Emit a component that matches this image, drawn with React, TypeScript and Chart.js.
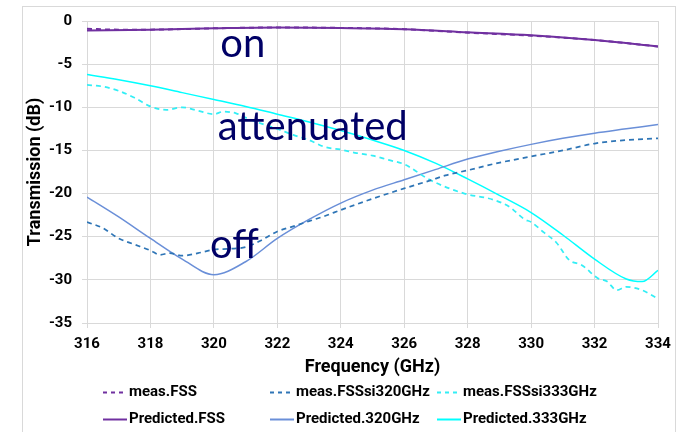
import React, { useEffect, useRef } from "react";
import { Chart, registerables } from "chart.js";

Chart.register(...registerables);

// ---- Data ----
const xTicks = [316, 318, 320, 322, 324, 326, 328, 330, 332, 334];
const yTicks = [0, -5, -10, -15, -20, -25, -30, -35];

const measFssFreq = [316, 317, 318, 320, 322, 324, 326, 328, 330, 332, 334];
const measFssVal = [-0.9, -1.0, -1.0, -0.85, -0.75, -0.8, -0.95, -1.35, -1.7, -2.2, -2.95];

const predFssFreq = [316, 318, 320, 322, 324, 326, 328, 330, 332, 334];
const predFssVal = [-1.1, -1.0, -0.85, -0.75, -0.8, -0.95, -1.3, -1.65, -2.2, -2.95];

const meas320Freq = [316, 316.5, 317, 317.5, 318, 318.3, 318.6, 319, 319.5, 320, 320.5, 321, 321.5, 322, 322.5, 323, 323.5, 324, 325, 326, 326.8, 327.3, 328, 328.9, 330, 331, 332, 333, 334];
const meas320Val = [-23.3, -24.0, -25.2, -25.9, -26.6, -27.1, -26.9, -27.2, -26.9, -26.5, -26.4, -26.2, -25.4, -24.4, -23.8, -23.2, -22.6, -21.9, -20.6, -19.4, -18.5, -17.9, -17.3, -16.5, -15.7, -15.0, -14.2, -13.8, -13.6];

const pred320Freq = [316, 317, 318, 319, 320, 321, 322, 323, 324, 325, 326, 327, 328, 329, 330, 331, 332, 333, 334];
const pred320Val = [-20.4, -22.7, -25.2, -27.6, -29.4, -27.9, -25.2, -23.0, -21.1, -19.6, -18.4, -17.2, -16.0, -15.1, -14.3, -13.6, -13.0, -12.5, -12.0];

const meas333Freq = [316, 316.5, 317, 317.5, 318, 318.5, 319, 319.5, 320, 320.3, 320.7, 321, 321.5, 322, 322.5, 323, 323.5, 324, 324.5, 325, 325.5, 326, 326.8, 327.9, 328.8, 329.3, 329.8, 330, 330.4, 330.8, 331.2, 331.6, 332.1, 332.4, 332.7, 333, 333.5, 334];
const meas333Val = [-7.4, -7.6, -8.1, -8.9, -9.9, -10.3, -10.0, -10.4, -10.8, -10.5, -10.7, -11.2, -11.9, -12.5, -13.2, -13.8, -14.6, -14.9, -15.3, -15.6, -16.1, -16.6, -18.4, -20.0, -20.7, -21.5, -23.0, -23.3, -24.5, -25.7, -27.7, -28.3, -29.8, -30.2, -31.2, -30.8, -31.2, -32.2];

const pred333Freq = [316, 317, 318, 319, 320, 321, 322, 323, 324, 325, 326, 327, 328, 329, 330, 331, 332, 333, 333.5, 334];
const pred333Val = [-6.2, -6.8, -7.5, -8.3, -9.1, -9.9, -10.8, -11.7, -12.7, -13.8, -15.0, -16.5, -18.3, -20.2, -22.2, -24.8, -27.6, -29.9, -30.2, -28.9];

const seriesNames = ["meas.FSS", "meas.FSSsi320GHz", "meas.FSSsi333GHz", "Predicted.FSS", "Predicted.320GHz", "Predicted.333GHz"];
const annotations = [
  { text: "on", x: 320.2, y: -4.2 },
  { text: "attenuated", x: 320.12, y: -13.8 },
  { text: "off", x: 319.88, y: -27.5 },
];

const pts = (xs: number[], ys: number[]) => xs.map((x, i) => ({ x, y: ys[i] }));

const PURPLE = "#7030A0";
const BLUE_DASH = "#2E75B6";
const BLUE = "#6A8FD8";
const CYAN = "#00FFFF";
const CYAN_DASH = "#33EEF5";

const ANNOT_FONT = "Lato, 'Open Sans', sans-serif";
const BOLD_FONT = "Roboto, 'Liberation Sans', sans-serif";

const datasets = [
  { label: seriesNames[0], data: pts(measFssFreq, measFssVal), borderColor: PURPLE, borderDash: [5, 4], borderWidth: 2 },
  { label: seriesNames[1], data: pts(meas320Freq, meas320Val), borderColor: BLUE_DASH, borderDash: [5, 4], borderWidth: 1.75 },
  { label: seriesNames[2], data: pts(meas333Freq, meas333Val), borderColor: CYAN_DASH, borderDash: [5, 4], borderWidth: 1.75 },
  { label: seriesNames[3], data: pts(predFssFreq, predFssVal), borderColor: PURPLE, borderWidth: 2 },
  { label: seriesNames[4], data: pts(pred320Freq, pred320Val), borderColor: BLUE, borderWidth: 1.5 },
  { label: seriesNames[5], data: pts(pred333Freq, pred333Val), borderColor: CYAN, borderWidth: 1.5 },
];

const bgPlugin = {
  id: "bgFrame",
  beforeDraw(chart: any) {
    const ctx = chart.ctx;
    ctx.save();
    ctx.fillStyle = "#ffffff";
    ctx.fillRect(0, 0, chart.width, chart.height);
    ctx.strokeStyle = "#d9d9d9";
    ctx.lineWidth = 1;
    ctx.strokeRect(22.5, 6.5, 653, 460);
    ctx.restore();
  },
};

const annotationPlugin = {
  id: "annots",
  afterDatasetsDraw(chart: any) {
    const ctx = chart.ctx;
    const xs = chart.scales.x;
    const ys = chart.scales.y;
    ctx.save();
    ctx.fillStyle = "#000066";
    ctx.font = `40px ${ANNOT_FONT}`;
    ctx.textAlign = "left";
    ctx.textBaseline = "alphabetic";
    annotations.forEach((a) => {
      ctx.fillText(a.text, xs.getPixelForValue(a.x), ys.getPixelForValue(a.y));
    });
    ctx.restore();
  },
};

const legendPlugin = {
  id: "gridLegend",
  afterDraw(chart: any) {
    const ctx = chart.ctx;
    const colX = [103, 270, 437];
    const rowY = [392, 419];
    ctx.save();
    ctx.font = `bold 15px ${BOLD_FONT}`;
    ctx.textBaseline = "middle";
    ctx.textAlign = "left";
    chart.data.datasets.forEach((ds: any, i: number) => {
      const c = i % 3;
      const r = Math.floor(i / 3);
      const x = colX[c];
      const y = rowY[r];
      ctx.strokeStyle = ds.borderColor;
      ctx.lineWidth = 2;
      ctx.setLineDash(ds.borderDash ? [4, 4] : []);
      ctx.beginPath();
      ctx.moveTo(x, y + 0.5);
      ctx.lineTo(x + 24, y + 0.5);
      ctx.stroke();
      ctx.setLineDash([]);
      ctx.fillStyle = "#000000";
      ctx.fillText(ds.label, x + 26, y);
    });
    ctx.restore();
  },
};

export default function App() {
  const ref = useRef<HTMLCanvasElement | null>(null);
  useEffect(() => {
    if (!ref.current) return;
    const chart = new Chart(ref.current, {
      type: "line",
      data: {
        datasets: datasets.map((d) => ({
          ...d,
          fill: false,
          pointRadius: 0,
          tension: 0.4,
          cubicInterpolationMode: "monotone" as const,
        })),
      },
      options: {
        animation: false,
        responsive: false,
        layout: { padding: { left: 23, top: 21, right: 24, bottom: 54 } },
        plugins: { legend: { display: false }, tooltip: { enabled: false } },
        scales: {
          x: {
            type: "linear",
            min: 316,
            max: 334,
            afterBuildTicks: (s: any) => {
              s.ticks = xTicks.map((v) => ({ value: v }));
            },
            afterFit: (s: any) => {
              s.height = 55;
            },
            ticks: { font: { family: BOLD_FONT, size: 15, weight: "bold" }, color: "#000", padding: 7 },
            grid: { color: "#d9d9d9", tickLength: 5, lineWidth: 1 },
            border: { color: "#d9d9d9" },
            title: { display: true, text: "Frequency (GHz)", font: { family: BOLD_FONT, size: 18, weight: "bold" }, color: "#000", padding: { top: 2, bottom: 0 } },
          },
          y: {
            type: "linear",
            min: -35,
            max: 0,
            afterBuildTicks: (s: any) => {
              s.ticks = yTicks.map((v) => ({ value: v }));
            },
            afterFit: (s: any) => {
              s.width = 64;
            },
            ticks: { font: { family: BOLD_FONT, size: 15, weight: "bold" }, color: "#000", padding: 10 },
            grid: { color: "#d9d9d9", tickLength: 5, lineWidth: 1 },
            border: { color: "#d9d9d9" },
            title: { display: true, text: "Transmission (dB)", font: { family: BOLD_FONT, size: 18, weight: "bold" }, color: "#000", padding: { top: 2, bottom: 0 } },
          },
        },
      },
      plugins: [bgPlugin, annotationPlugin, legendPlugin],
    } as any);
    return () => chart.destroy();
  }, []);
  return (
    <div style={{ position: "fixed", left: 0, top: 0, width: 682, height: 432, background: "#fff" }}>
      <canvas ref={ref} width={682} height={432} style={{ display: "block" }} />
    </div>
  );
}
